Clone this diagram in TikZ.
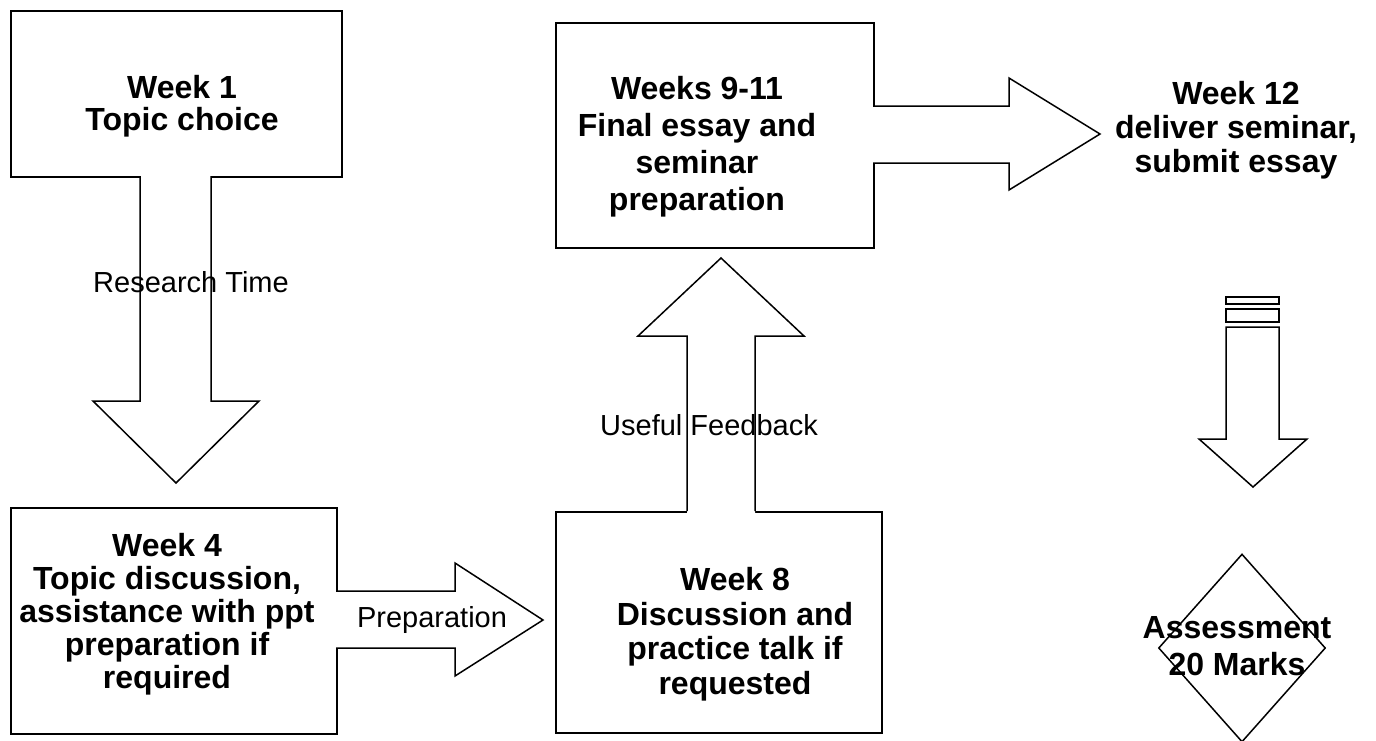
\documentclass[tikz,border=0pt]{standalone}
\usepackage{fontspec}
\setmainfont{Liberation Sans}
\usetikzlibrary{shapes.geometric}
\begin{document}
\begin{tikzpicture}[x=1pt,y=-1pt,
  ln/.style={draw=black, line width=1.5pt, line join=miter},
  boxshape/.style={ln, fill=white, rectangle, anchor=north west, inner sep=0pt},
  boldtext/.style={align=center, font=\fontsize{32}{#1}\selectfont\bfseries, inner sep=0pt},
  labeltext/.style={font=\fontsize{29}{33}\selectfont, inner sep=0pt},
  arrowfill/.style={fill=white}]
\useasboundingbox (0,0) rectangle (1376,740);

% boxes
\node[boxshape, minimum width=331pt, minimum height=166pt] (b1) at (10,10) {};
\node[boxshape, minimum width=326pt, minimum height=226pt] (b2) at (10,507) {};
\node[boxshape, minimum width=326pt, minimum height=221pt] (b3) at (555,511) {};
\node[boxshape, minimum width=318pt, minimum height=225pt] (b4) at (555,22) {};

% block arrow 1 (down)
\path[arrowfill] (140,173) -- (140,401) -- (93,401) -- (176,483) -- (259,401) -- (211,401) -- (211,173) -- cycle;
\draw[ln] (140,176) -- (140,401) -- (93,401) -- (176,483) -- (259,401) -- (211,401) -- (211,176);

% block arrow 2 (right, preparation)
\path[arrowfill] (333,591) -- (455,591) -- (455,563) -- (543,620) -- (455,676) -- (455,648) -- (333,648) -- cycle;
\draw[ln] (336,591) -- (455,591) -- (455,563) -- (543,620) -- (455,676) -- (455,648) -- (336,648);

% block arrow 3 (up, feedback)
\path[arrowfill] (687,514) -- (687,336) -- (638,336) -- (721,258) -- (804,336) -- (755,336) -- (755,514) -- cycle;
\draw[ln] (687,511) -- (687,336) -- (638,336) -- (721,258) -- (804,336) -- (755,336) -- (755,511);

% block arrow 4 (right, top)
\path[arrowfill] (870,106) -- (1009,106) -- (1009,78) -- (1100,134) -- (1009,190) -- (1009,163) -- (870,163) -- cycle;
\draw[ln] (873,106) -- (1009,106) -- (1009,78) -- (1100,134) -- (1009,190) -- (1009,163) -- (873,163);

% striped down arrow
\draw[ln] (1226,297) rectangle (1279,304);
\draw[ln] (1226,309) rectangle (1279,322);
\draw[ln] (1226,327) -- (1279,327) -- (1279,439) -- (1307,439) -- (1253,487) -- (1199,439) -- (1226,439) -- cycle;

% diamond
\node[diamond, ln, minimum width=167pt, minimum height=188pt, inner sep=0pt] (d) at (1242,648) {};

% texts
\node[boldtext=32] (t1) at (182,106) {Week 1\\Topic choice};
\node[boldtext=33] (t2) at (167,614) {Week 4\\Topic discussion,\\assistance with ppt\\preparation if\\required};
\node[boldtext=34.5] (t3) at (735,634) {Week 8\\Discussion and\\practice talk if\\requested};
\node[boldtext=37] (t4) at (697,147) {Weeks 9-11\\Final essay and\\seminar\\preparation};
\node[boldtext=34] (t5) at (1236,130) {Week 12\\deliver seminar,\\submit essay};
\node[boldtext=37] (t6) at (1237,646) {Assessment\\20 Marks};

\node[labeltext] (l1) at (191,282) {Research Time};
\node[labeltext] (l2) at (432,620) {Preparation};
\node[labeltext] (l3) at (709,425) {Useful Feedback};
\end{tikzpicture}
\end{document}
